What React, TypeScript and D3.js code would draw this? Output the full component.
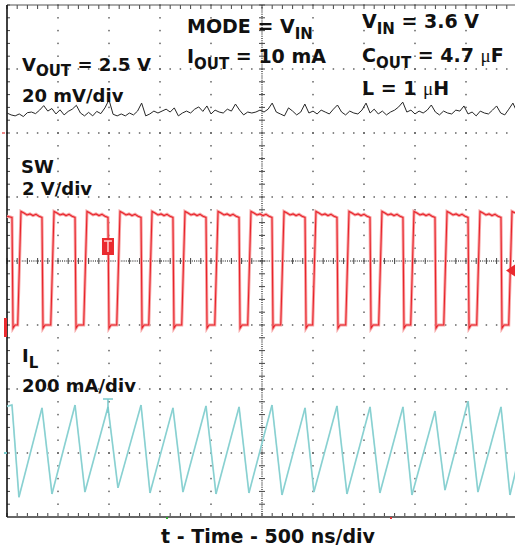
import React from 'react';
import * as d3 from 'd3';

// ---------- data ----------
const timeDomain_ns = [0, 5000]; // 10 div x 500 ns/div

// VOUT ripple (mV, AC), sampled every 40 ns
const voutStep_ns = 40;
const voutRipple_mV = [
  0.0, -0.6, -0.9, -0.3, -1.1, 0.1, 0.3, -0.2, 0.9, 2.3,
  0.6, 1.4, -0.3, 1.0, -0.6, 0.5, 1.2, 2.4, 0.0, -0.9,
  0.2, -0.9, 0.5, -0.2, 1.6, 4.1, -0.4, -0.9, -0.3, -0.9,
  0.0, -0.6, 0.6, 3.1, -0.9, -0.3, 0.6, 0.0, 0.6, 1.2,
  0.3, 1.6, -0.9, 0.0, 0.6, 0.0, 1.2, 1.9, 0.5, 2.2,
  -0.3, 0.9, 0.3, 0.0, 1.2, 0.6, 2.8, 0.9, -0.6, 0.3,
  0.0, 0.3, 0.9, 0.3, 1.2, 3.1, 0.3, -0.3, -0.9, 1.6,
  0.6, -0.6, 0.3, 2.8, 0.0, 0.6, -0.3, 0.9, 0.3, -0.3,
  1.2, 2.5, 0.3, -0.6, 0.6, 0.0, -0.3, 0.9, 3.1, 0.0,
  1.2, -0.3, 0.6, -0.6, 0.3, 0.9, 1.9, 3.4, 0.3, 0.9,
  -0.3, 0.6, 0.0, 0.9, 2.5, 0.3, -0.6, 0.6, 0.0, -0.3,
  0.9, 0.6, 2.2, -0.3, 0.3, -0.9, 0.6, 0.0, -0.3, 0.9,
  2.2, 0.0, -0.6, 1.2, 3.1, 0.3,
];

// SW node edges (ns)
const swFall_ns = [49, 343, 667, 990, 1314, 1627, 1951, 2275, 2598, 2922, 3235, 3559, 3882, 4196, 4520, 4843];
const swRise_ns = [137, 461, 784, 1108, 1422, 1745, 2069, 2392, 2716, 3029, 3353, 3676, 3990, 4314, 4637, 4951];
// SW high-plateau profile (V) across each on-time, from rising edge to falling edge
const swTopProfile_V = [3.55, 3.5, 3.44, 3.47, 3.42, 3.46, 3.4, 3.36];
const swLow_V = 0;
const swUndershoot_V = -0.1;
const trigLevel_V = 1.7;

// Inductor current peaks (at SW falling edges) and valleys (just before rising edges), mA
const ilStart_mA = 146;
const ilPeak_mA = [150, 141, 150, 144, 150, 141, 147, 144, 150, 141, 147, 144, 144, 131, 162, 144];
const ilValley_mA = [-138, -128, -122, -109, -125, -122, -128, -125, -131, -122, -128, -125, -131, -116, -122, -131];
const ilEnd_mA = -40;
const ilValleyLead_ns = 20;

// ---------- geometry ----------
const W = 515, H = 550;
const X0 = 7, X1 = 517, Y0 = 5, Y1 = 517;
const DIVX = 10, DIVY = 8, MINOR = 5;

const FONT = "'DejaVu Sans', sans-serif";

export default function App() {
  const x = d3.scaleLinear().domain(timeDomain_ns).range([X0, X1]);
  const gx = d3.scaleLinear().domain([0, DIVX]).range([X0, X1]);
  const gy = d3.scaleLinear().domain([0, DIVY]).range([Y0, Y1]);
  const yV = d3.scaleLinear().domain([-20, 20]).range([113 + 64, 113 - 64]);
  const ySW = d3.scaleLinear().domain([0, 2]).range([325, 261]);
  const yIL = d3.scaleLinear().domain([0, 200]).range([453, 389]);

  const line = d3.line<[number, number]>();

  // VOUT
  const voutPath = line(voutRipple_mV.map((v, i) => [x(i * voutStep_ns), yV(v)]));

  // SW
  const nP = swTopProfile_V.length;
  const sw: [number, number][] = [[0, swTopProfile_V[nP - 2]]];
  swFall_ns.forEach((f, i) => {
    sw.push([f, swTopProfile_V[nP - 1]], [f + 10, swUndershoot_V], [f + 30, swLow_V]);
    const r = swRise_ns[i];
    sw.push([r - 32, swLow_V]);
    const nf = swFall_ns[i + 1] ?? r + (swFall_ns[1] - swRise_ns[0]);
    swTopProfile_V.slice(0, nP - 1).forEach((v, j) => {
      sw.push([r + ((nf - r) * j) / (nP - 1), v]);
    });
  });
  const swPath = line(
    sw.filter(p => p[0] <= timeDomain_ns[1]).map(([t, v]) => [x(t), ySW(v)])
  );

  // IL
  const il: [number, number][] = [[0, ilStart_mA]];
  swFall_ns.forEach((f, i) => il.push([f, ilPeak_mA[i]]));
  swRise_ns.forEach((r, i) => il.push([r - ilValleyLead_ns, ilValley_mA[i]]));
  il.push([timeDomain_ns[1], ilEnd_mA]);
  il.sort((a, b) => a[0] - b[0]);
  const ilPath = line(il.map(([t, v]) => [x(t), yIL(v)]));

  // graticule
  const majorX = d3.range(1, DIVX).filter(k => k !== DIVX / 2);
  const majorY = d3.range(1, DIVY).filter(k => k !== DIVY / 2);
  const minorXs = d3.range(0, DIVX * MINOR + 1).map(m => m / MINOR);
  const minorYs = d3.range(0, DIVY * MINOR + 1).map(m => m / MINOR);
  const gridColor = '#3a3a3a';

  const lbl = { fontFamily: FONT, fontWeight: 700, fill: '#111' } as const;
  const mu = { fontFamily: "'Liberation Serif', serif", fontWeight: 400 } as const;

  const trigT = x(swFall_ns[3]);

  return (
    <svg width={W} height={H} style={{ position: 'absolute', left: 0, top: 0, background: '#fff' }}>
      <rect x={0} y={0} width={W} height={H} fill="#fff" />
      {/* dotted grid lines */}
      {majorX.map(k => minorYs.map(m => (
        <rect key={`vx${k}-${m}`} x={gx(k) - 0.6} y={gy(m) - 0.75} width={1.2} height={1.5} fill={gridColor} />
      )))}
      {majorY.map(k => minorXs.map(m => (
        <rect key={`hy${k}-${m}`} x={gx(m) - 0.75} y={gy(k) - 0.6} width={1.5} height={1.2} fill={gridColor} />
      )))}
      {/* center axes */}
      <line x1={gx(DIVX / 2)} x2={gx(DIVX / 2)} y1={Y0} y2={Y1} stroke="#555" strokeWidth={1.6} strokeDasharray="1,1.2" />
      <line x1={X0} x2={X1} y1={gy(DIVY / 2)} y2={gy(DIVY / 2)} stroke="#555" strokeWidth={1.6} strokeDasharray="1,1.2" />
      {minorYs.map(m => (
        <line key={`cty${m}`} x1={gx(DIVX / 2) - 3} x2={gx(DIVX / 2) + 3} y1={gy(m)} y2={gy(m)} stroke="#444" strokeWidth={1} />
      ))}
      {minorXs.map(m => (
        <line key={`ctx${m}`} x1={gx(m)} x2={gx(m)} y1={gy(DIVY / 2) - 3} y2={gy(DIVY / 2) + 3} stroke="#444" strokeWidth={1} />
      ))}
      {/* edge ticks */}
      {minorXs.map(m => (
        <g key={`et${m}`}>
          <line x1={gx(m)} x2={gx(m)} y1={Y0} y2={Y0 + 4} stroke="#444" strokeWidth={1} />
          <line x1={gx(m)} x2={gx(m)} y1={Y1 - 4} y2={Y1} stroke="#444" strokeWidth={1} />
        </g>
      ))}
      {minorYs.map(m => (
        <line key={`el${m}`} x1={X0} x2={X0 + 3} y1={gy(m)} y2={gy(m)} stroke="#444" strokeWidth={1} />
      ))}
      {/* frame */}
      <line x1={X0} x2={W} y1={Y0} y2={Y0} stroke="#555" strokeWidth={1.2} />
      <line x1={X0} x2={W} y1={Y1} y2={Y1} stroke="#666" strokeWidth={2.2} />
      <line x1={X0} x2={X0} y1={Y0} y2={Y1} stroke="#111" strokeWidth={1.6} />

      {/* traces */}
      <path d={ilPath ?? ''} fill="none" stroke="#a6dede" strokeWidth={1.8} />
      <path d={ilPath ?? ''} fill="none" stroke="#80cccd" strokeWidth={0.9} />
      <path d={swPath ?? ''} fill="none" stroke="#f7a3a3" strokeWidth={3} />
      <path d={swPath ?? ''} fill="none" stroke="#e8232b" strokeWidth={1.1} />
      <path d={voutPath ?? ''} fill="none" stroke="#262626" strokeWidth={1} />

      {/* markers */}
      <rect x={trigT - 6} y={238} width={12} height={17} fill="#ea2a2f" />
      <line x1={trigT - 4} x2={trigT + 4} y1={241} y2={241} stroke="#ffd0d0" strokeWidth={1.5} />
      <line x1={trigT} x2={trigT} y1={241} y2={252} stroke="#ffd0d0" strokeWidth={1.5} />
      <line x1={trigT - 5} x2={trigT + 5} y1={399} y2={399} stroke="#78c9cb" strokeWidth={1.5} />
      <line x1={trigT} x2={trigT} y1={399} y2={413} stroke="#78c9cb" strokeWidth={1.5} />
      <path d={`M${W - 9},${ySW(trigLevel_V)} L${W},${ySW(trigLevel_V) - 6} L${W},${ySW(trigLevel_V) + 6} Z`} fill="#ea2a2f" />
      <rect x={4} y={ySW(0) - 7} width={3} height={19} fill="#ea2a2f" />
      <rect x={4} y={yIL(0) - 1} width={3} height={2} fill="#78c9cb" />
      <rect x={2} y={132} width={3} height={2} fill="#e88" />
      <rect x={166} y={517} width={2} height={2} fill="#3a3" />
      <rect x={390} y={517} width={2} height={2} fill="#d33" />

      {/* labels */}
      <g style={lbl} fontSize={19}>
        <text x={187} y={33}>MODE = V<tspan dy={6} fontSize={15}>IN</tspan></text>
        <text x={187} y={63}>I<tspan dy={6} fontSize={15}>OUT</tspan><tspan dy={-6}> = 10 mA</tspan></text>
        <text x={362} y={28}>V<tspan dy={6} fontSize={15}>IN</tspan><tspan dy={-6}> = 3.6 V</tspan></text>
        <text x={362} y={62}>C<tspan dy={6} fontSize={15}>OUT</tspan><tspan dy={-6}> = 4.7 </tspan><tspan style={mu}>μ</tspan>F</text>
        <text x={362} y={95}>L = 1 <tspan style={mu}>μ</tspan>H</text>
      </g>
      <g style={lbl} fontSize={18}>
        <text x={22} y={71}>V<tspan dy={5} fontSize={15}>OUT</tspan><tspan dy={-5}> = 2.5 V</tspan></text>
        <text x={22} y={102}>20 mV/div</text>
        <text x={21} y={173}>SW</text>
        <text x={22} y={195}>2 V/div</text>
        <text x={22} y={362}>I<tspan dy={6} fontSize={15}>L</tspan></text>
        <text x={22} y={392}>200 mA/div</text>
      </g>
      <text x={268} y={543} textAnchor="middle" style={lbl} fontSize={19}>t - Time - 500 ns/div</text>
    </svg>
  );
}
